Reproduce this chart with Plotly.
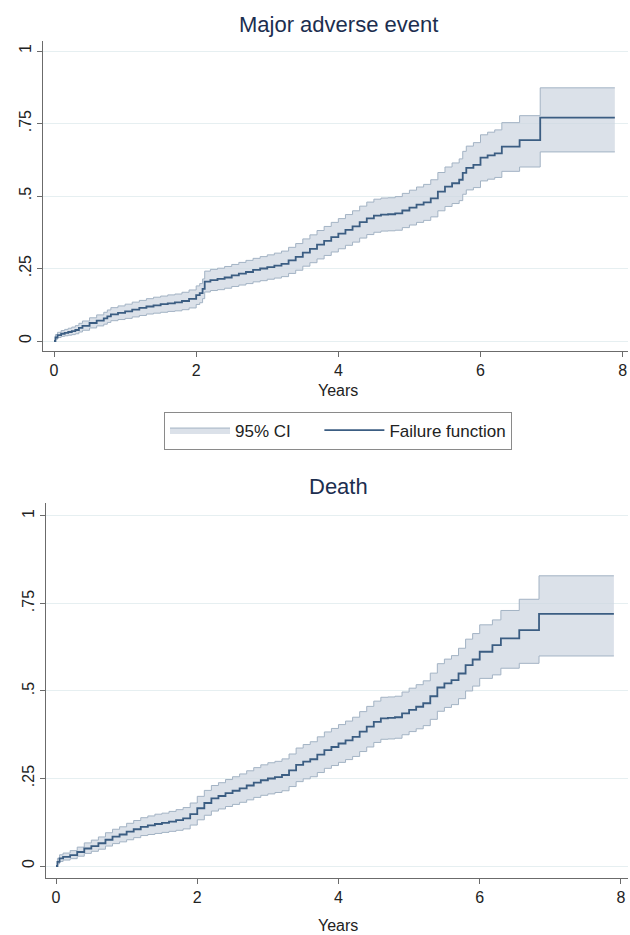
import plotly.graph_objects as go

# ---- Major adverse event (Kaplan-Meier failure function with 95% CI) ----
mae_t = [0, 0.02, 0.05, 0.1, 0.15, 0.2, 0.25, 0.3, 0.35, 0.4, 0.5, 0.6, 0.7, 0.75, 0.8, 0.9,
         1.0, 1.1, 1.2, 1.3, 1.4, 1.5, 1.6, 1.7, 1.8, 1.9, 2.0, 2.05, 2.09, 2.12, 2.2, 2.3,
         2.4, 2.5, 2.6, 2.7, 2.8, 2.9, 3.0, 3.1, 3.2, 3.3, 3.4, 3.5, 3.6, 3.7, 3.8, 3.9,
         4.0, 4.1, 4.2, 4.3, 4.4, 4.5, 4.6, 4.7, 4.8, 4.9, 5.0, 5.1, 5.2, 5.3, 5.4, 5.5,
         5.6, 5.7, 5.75, 5.8, 5.9, 6.0, 6.1, 6.2, 6.3, 6.55, 6.84, 7.89]
mae_f = [0, 0.012, 0.020, 0.025, 0.028, 0.031, 0.034, 0.038, 0.045, 0.052, 0.062, 0.070, 0.078, 0.085, 0.092, 0.097,
         0.102, 0.108, 0.114, 0.119, 0.123, 0.127, 0.130, 0.133, 0.138, 0.145, 0.158, 0.165, 0.180, 0.205, 0.210, 0.214,
         0.219, 0.226, 0.232, 0.238, 0.245, 0.250, 0.255, 0.260, 0.266, 0.278, 0.290, 0.305, 0.318, 0.332, 0.345, 0.358,
         0.370, 0.383, 0.395, 0.410, 0.423, 0.432, 0.436, 0.437, 0.440, 0.450, 0.460, 0.470, 0.478, 0.492, 0.515, 0.532,
         0.544, 0.556, 0.580, 0.597, 0.607, 0.632, 0.640, 0.647, 0.670, 0.693, 0.770, 0.770]
mae_lo = [0, 0.006, 0.012, 0.016, 0.018, 0.020, 0.022, 0.025, 0.031, 0.037, 0.045, 0.052, 0.058, 0.064, 0.070, 0.074,
          0.078, 0.083, 0.088, 0.093, 0.096, 0.099, 0.102, 0.104, 0.108, 0.114, 0.126, 0.132, 0.146, 0.169, 0.174, 0.177,
          0.182, 0.188, 0.193, 0.198, 0.204, 0.208, 0.213, 0.217, 0.222, 0.233, 0.244, 0.258, 0.270, 0.283, 0.295, 0.307,
          0.318, 0.330, 0.341, 0.355, 0.367, 0.375, 0.379, 0.380, 0.382, 0.391, 0.400, 0.409, 0.416, 0.428, 0.449, 0.464,
          0.474, 0.484, 0.506, 0.521, 0.529, 0.552, 0.558, 0.564, 0.585, 0.600, 0.652, 0.652]
mae_hi = [0, 0.022, 0.030, 0.036, 0.040, 0.044, 0.048, 0.053, 0.061, 0.069, 0.080, 0.090, 0.099, 0.107, 0.115, 0.121,
          0.127, 0.134, 0.140, 0.146, 0.151, 0.155, 0.159, 0.162, 0.168, 0.176, 0.190, 0.198, 0.214, 0.241, 0.247, 0.251,
          0.257, 0.264, 0.271, 0.278, 0.285, 0.291, 0.297, 0.303, 0.310, 0.323, 0.336, 0.352, 0.366, 0.381, 0.395, 0.409,
          0.422, 0.436, 0.449, 0.465, 0.479, 0.489, 0.493, 0.494, 0.498, 0.509, 0.520, 0.531, 0.540, 0.556, 0.581, 0.600,
          0.614, 0.628, 0.654, 0.672, 0.684, 0.711, 0.720, 0.728, 0.753, 0.777, 0.873, 0.873]

# ---- Death ----
death_t = [0, 0.02, 0.05, 0.1, 0.2, 0.3, 0.4, 0.5, 0.6, 0.7, 0.8, 0.9, 1.0, 1.1, 1.2, 1.3,
           1.4, 1.5, 1.6, 1.7, 1.8, 1.9, 2.0, 2.1, 2.2, 2.3, 2.4, 2.5, 2.6, 2.7, 2.8, 2.9,
           3.0, 3.1, 3.2, 3.3, 3.4, 3.5, 3.6, 3.7, 3.8, 3.9, 4.0, 4.1, 4.2, 4.3, 4.4, 4.5,
           4.6, 4.7, 4.8, 4.9, 5.0, 5.1, 5.2, 5.3, 5.4, 5.5, 5.6, 5.7, 5.8, 5.9, 6.0, 6.18,
           6.3, 6.56, 6.84, 7.9]
death_f = [0, 0.012, 0.022, 0.026, 0.031, 0.040, 0.050, 0.057, 0.065, 0.075, 0.084, 0.090, 0.098, 0.105, 0.112, 0.116,
           0.120, 0.123, 0.127, 0.131, 0.136, 0.148, 0.165, 0.180, 0.193, 0.200, 0.208, 0.215, 0.222, 0.230, 0.238, 0.245,
           0.250, 0.254, 0.260, 0.273, 0.289, 0.298, 0.305, 0.318, 0.331, 0.340, 0.350, 0.359, 0.369, 0.384, 0.398, 0.412,
           0.422, 0.423, 0.425, 0.436, 0.446, 0.455, 0.465, 0.485, 0.510, 0.522, 0.531, 0.550, 0.574, 0.590, 0.612, 0.631,
           0.650, 0.674, 0.720, 0.720]
death_lo = [0, 0.006, 0.013, 0.017, 0.021, 0.028, 0.036, 0.042, 0.048, 0.057, 0.064, 0.069, 0.075, 0.081, 0.087, 0.090,
            0.093, 0.096, 0.099, 0.102, 0.106, 0.117, 0.132, 0.145, 0.157, 0.163, 0.170, 0.176, 0.182, 0.189, 0.196, 0.202,
            0.206, 0.210, 0.215, 0.227, 0.241, 0.249, 0.255, 0.267, 0.279, 0.287, 0.296, 0.304, 0.313, 0.327, 0.340, 0.353,
            0.362, 0.363, 0.365, 0.375, 0.384, 0.392, 0.401, 0.419, 0.442, 0.453, 0.461, 0.478, 0.500, 0.514, 0.536, 0.546,
            0.565, 0.579, 0.600, 0.600]
death_hi = [0, 0.022, 0.032, 0.037, 0.044, 0.054, 0.066, 0.074, 0.083, 0.095, 0.105, 0.112, 0.122, 0.130, 0.138, 0.143,
            0.148, 0.151, 0.156, 0.161, 0.167, 0.180, 0.199, 0.216, 0.230, 0.238, 0.247, 0.255, 0.263, 0.272, 0.281, 0.289,
            0.295, 0.299, 0.306, 0.320, 0.337, 0.347, 0.355, 0.369, 0.383, 0.393, 0.404, 0.414, 0.425, 0.441, 0.456, 0.471,
            0.482, 0.483, 0.485, 0.497, 0.508, 0.518, 0.529, 0.551, 0.578, 0.591, 0.601, 0.622, 0.648, 0.664, 0.689, 0.703,
            0.730, 0.762, 0.829, 0.829]

x_ticks = [0, 2, 4, 6, 8]
y_ticks = [0, 0.25, 0.5, 0.75, 1]
y_tick_text = ["0", ".25", ".5", ".75", "1"]
titles = ["Major adverse event", "Death"]
legend_names = ["95% CI", "Failure function"]

LINE = "#3b5d82"
FILL = "rgba(205,214,225,0.72)"
EDGE = "#a3b3c4"
FONT = "Liberation Sans, Arial, sans-serif"

W, H = 630, 935
fig = go.Figure()

panels = [
    (mae_t, mae_f, mae_lo, mae_hi, "x", "y", True),
    (death_t, death_f, death_lo, death_hi, "x2", "y2", False),
]
for t, f, lo, hi, xa, ya, show in panels:
    fig.add_trace(go.Scatter(x=t, y=lo, mode="lines", line=dict(color=EDGE, width=1, shape="hv"),
                             showlegend=False, hoverinfo="skip", xaxis=xa, yaxis=ya))
    fig.add_trace(go.Scatter(x=t, y=hi, mode="lines", line=dict(color=EDGE, width=1, shape="hv"),
                             fill="tonexty", fillcolor=FILL,
                             name=legend_names[0] + "\u00a0" * 5, showlegend=show,
                             xaxis=xa, yaxis=ya))
    fig.add_trace(go.Scatter(x=t, y=f, mode="lines", line=dict(color=LINE, width=1.8, shape="hv"),
                             name=legend_names[1], showlegend=show, xaxis=xa, yaxis=ya))

def px_x(p):
    return p / W

def px_y(p):
    return 1 - p / H

axis_common = dict(showline=True, linecolor="#6b6b6b", linewidth=1.2, ticks="outside",
                   ticklen=5, tickcolor="#6b6b6b", tickfont=dict(family=FONT, size=16, color="#222"),
                   zeroline=False)

fig.update_layout(
    width=W, height=H, margin=dict(l=0, r=0, t=0, b=0),
    paper_bgcolor="white", plot_bgcolor="white",
    font=dict(family=FONT, color="#222"),
    xaxis=dict(domain=[px_x(43), px_x(628)], range=[-0.155, 8.075], anchor="y",
               tickvals=x_ticks, showgrid=False, **axis_common),
    yaxis=dict(domain=[px_y(351), px_y(41)], range=[-0.0345, 1.0345], anchor="x",
               tickvals=y_ticks, ticktext=y_tick_text, tickangle=-90, showgrid=True,
               gridcolor="#e6eff1", gridwidth=1, **axis_common),
    xaxis2=dict(domain=[px_x(46), px_x(628)], range=[-0.142, 8.1], anchor="y2",
                tickvals=x_ticks, showgrid=False, **axis_common),
    yaxis2=dict(domain=[px_y(877.7), px_y(503)], range=[-0.0334, 1.037], anchor="x2",
                tickvals=y_ticks, ticktext=y_tick_text, tickangle=-90, showgrid=True,
                gridcolor="#e6eff1", gridwidth=1, **axis_common),
    legend=dict(orientation="h", x=px_x(338), y=px_y(430.5), xanchor="center", yanchor="middle",
                bordercolor="#8a8a8a", borderwidth=1, bgcolor="white", traceorder="normal",
                font=dict(family=FONT, size=17, color="#222"), itemwidth=60),
    showlegend=True,
)

fig.add_annotation(text=titles[0], x=px_x(338), y=px_y(25), xref="paper", yref="paper",
                   showarrow=False, font=dict(family=FONT, size=22, color="#1c2e4f"),
                   xanchor="center", yanchor="middle")
fig.add_annotation(text=titles[1], x=px_x(338), y=px_y(486), xref="paper", yref="paper",
                   showarrow=False, font=dict(family=FONT, size=22, color="#1c2e4f"),
                   xanchor="center", yanchor="middle")
for yy in (390, 925):
    fig.add_annotation(text="Years", x=px_x(338), y=px_y(yy), xref="paper", yref="paper",
                       showarrow=False, font=dict(family=FONT, size=16, color="#222"),
                       xanchor="center", yanchor="middle")

fig.write_html("out.html", config={"displayModeBar": False},
               post_script="document.body.style.margin='0';document.body.style.overflow='hidden';")
